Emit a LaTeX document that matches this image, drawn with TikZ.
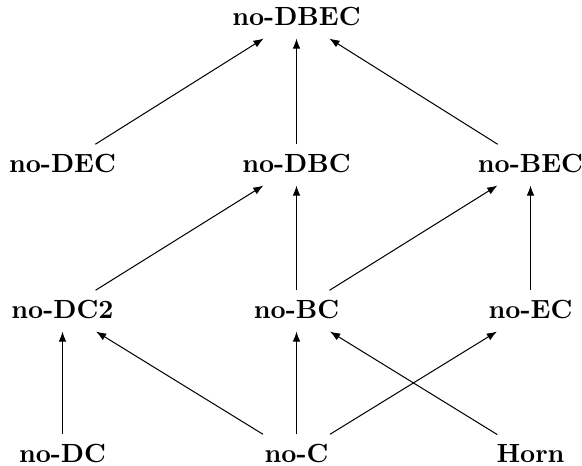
\documentclass[tikz,border=0pt]{standalone}
\usetikzlibrary{arrows.meta}
\begin{document}
\begin{tikzpicture}[x=0.392pt,y=-0.392pt,
  lat/.style={font=\fontsize{10.3}{12}\selectfont\bfseries,
    inner sep=3.5pt, text depth=1.6pt, anchor=base},
  up/.style={-{Latex[length=4pt,width=3pt]}, line width=0.4pt}]
\useasboundingbox (0,0) rectangle (582,465);
% top element
\node[lat] (dbec) at (296.5,25) {no-DBEC};
% second row
\node[lat] (dec) at (62.5,172) {no-DEC};
\node[lat] (dbc) at (296.5,172) {no-DBC};
\node[lat] (bec) at (530.5,172) {no-BEC};
% third row
\node[lat] (dc2) at (62.5,318) {no-DC2};
\node[lat] (bc)  at (296.5,318) {no-BC};
\node[lat] (ec)  at (530.5,318) {no-EC};
% bottom row
\node[lat] (dc)   at (62.5,462) {no-DC};
\node[lat] (c)    at (296.5,462) {no-C};
\node[lat] (horn) at (530.5,462) {Horn};
% order relations
\draw[up] (dec) -- (dbec);
\draw[up] (dbc) -- (dbec);
\draw[up] (bec) -- (dbec);
\draw[up] (dc2) -- (dbc);
\draw[up] (bc) -- (dbc);
\draw[up] (bc) -- (bec);
\draw[up] (ec) -- (bec);
\draw[up] (dc) -- (dc2);
\draw[up] (c) -- (dc2);
\draw[up] (c) -- (bc);
\draw[up] (c) -- (ec);
\draw[up] (horn) -- (bc);
\end{tikzpicture}
\end{document}
